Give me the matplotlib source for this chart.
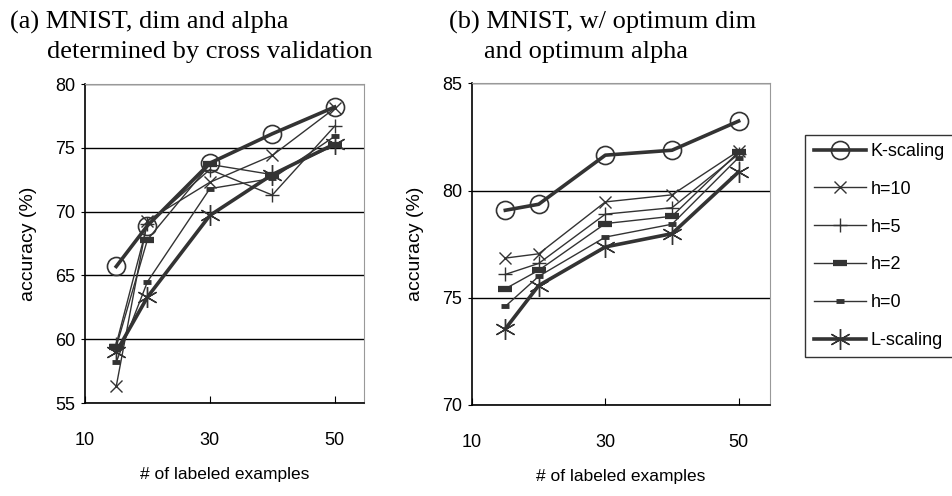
import matplotlib
matplotlib.use('Agg')
import matplotlib.pyplot as plt
from matplotlib import font_manager as fm

names = {f.name for f in fm.fontManager.ttflist}
narrow = 'Liberation Sans Narrow' if 'Liberation Sans Narrow' in names else 'Liberation Sans'
plt.rcParams['font.family'] = [narrow, 'DejaVu Sans']

x = [15, 20, 30, 40, 50]
labels = ['K-scaling', 'h=10', 'h=5', 'h=2', 'h=0', 'L-scaling']

# (a) cross validation
a_k = [65.7, 68.9, 73.8, 76.1, 78.2]
a_h10 = [56.3, 69.3, 72.3, 74.4, 78.1]
a_h5 = [59.6, 69.0, 73.3, 71.3, 76.7]
a_h2 = [59.4, 67.8, 73.7, 72.9, 75.2]
a_h0 = [58.2, 64.5, 71.8, 72.6, 75.9]
a_l = [59.0, 63.3, 69.7, 72.9, 75.3]

# (b) optimum dim / alpha
b_k = [79.08, 79.36, 81.65, 81.88, 83.24]
b_h10 = [76.85, 77.05, 79.47, 79.80, 81.85]
b_h5 = [76.09, 76.60, 78.90, 79.20, 81.70]
b_h2 = [75.42, 76.28, 78.46, 78.80, 81.80]
b_h0 = [74.60, 76.00, 77.83, 78.43, 81.54]
b_l = [73.55, 75.57, 77.37, 77.99, 80.87]

c = '#333333'
styles = [
    dict(lw=2.6, marker='o', ms=13, mfc='none', mew=1.2),
    dict(lw=1.0, marker='x', ms=9, mew=1.0),
    dict(lw=1.0, marker='+', ms=10, mew=1.0),
    dict(lw=1.0, marker='_', ms=10, mew=4.5),
    dict(lw=1.0, marker='_', ms=6, mew=3.5),
    dict(lw=2.6, marker=(6, 2, 0), ms=15, mew=1.0),
]

fig = plt.figure(figsize=(9.52, 4.96), dpi=100)
ax1 = fig.add_axes([0.0893, 0.1875, 0.2931, 0.6431])
ax2 = fig.add_axes([0.4958, 0.1835, 0.3130, 0.6485])

def setup(ax, ylo, yhi):
    ax.set_xlim(10, 54.7)
    ax.set_ylim(ylo, yhi)
    ax.set_xticks([10, 30, 50])
    ax.set_yticks(range(ylo, yhi + 1, 5))
    ax.yaxis.grid(True, color='black', lw=1.0)
    ax.set_axisbelow(True)
    for s in ['top', 'right']:
        ax.spines[s].set_color('#999999')
    for s in ['left', 'bottom']:
        ax.spines[s].set_color('black')
        ax.spines[s].set_linewidth(1.2)
    ax.tick_params(axis='x', direction='in', length=5, pad=21, labelsize=13)
    ax.tick_params(axis='y', direction='out', length=3, pad=4, labelsize=13)
    ax.set_xlabel('# of labeled examples', fontsize=12.5, labelpad=13)
    ax.set_ylabel('accuracy (%)', fontsize=14, labelpad=13)

for ax, series in [(ax1, [a_k, a_h10, a_h5, a_h2, a_h0, a_l]),
                   (ax2, [b_k, b_h10, b_h5, b_h2, b_h0, b_l])]:
    for ys, lab, st in zip(series, labels, styles):
        ax.plot(x, ys, color=c, mec=c, label=lab, **st)

setup(ax1, 55, 80)
setup(ax2, 70, 85)

h, l = ax2.get_legend_handles_labels()
leg = fig.legend(h, l, loc='upper left', bbox_to_anchor=(0.846, 0.728),
                 frameon=True, fancybox=False, edgecolor='black',
                 fontsize=13, handlelength=2.9, labelspacing=1.15,
                 borderpad=0.45, handletextpad=0.25, borderaxespad=0)
leg.get_frame().set_linewidth(1.0)

serif = 'Liberation Serif'
fig.text(0.010, 0.978, '(a) MNIST, dim and alpha', fontsize=19, family=serif, va='top')
fig.text(0.049, 0.918, 'determined by cross validation', fontsize=19, family=serif, va='top')
fig.text(0.472, 0.978, '(b) MNIST, w/ optimum dim', fontsize=19, family=serif, va='top')
fig.text(0.508, 0.918, 'and optimum alpha', fontsize=19, family=serif, va='top')

fig.savefig('out.png', dpi=100)
